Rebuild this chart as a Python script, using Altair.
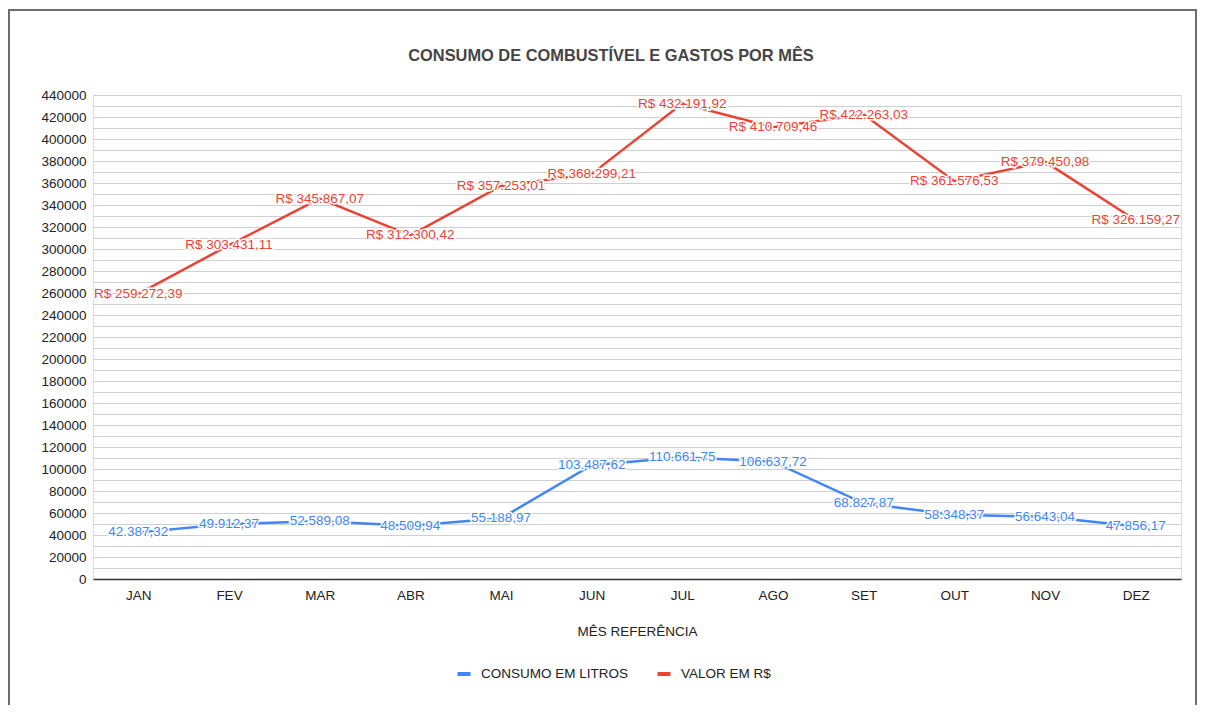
import altair as alt
import pandas as pd

months = ["JAN", "FEV", "MAR", "ABR", "MAI", "JUN", "JUL", "AGO", "SET", "OUT", "NOV", "DEZ"]
consumo_litros = [42387.32, 49912.37, 52589.08, 48509.94, 55188.97, 103487.62,
                  110661.75, 106637.72, 68827.87, 58348.37, 56643.04, 47856.17]
valor_rs = [259272.39, 303431.11, 345867.07, 312300.42, 357253.01, 368299.21,
            432191.92, 410709.46, 422263.03, 361576.53, 379450.98, 326159.27]
series_names = ["CONSUMO EM LITROS", "VALOR EM R$"]
series_colors = ["#4285F4", "#EA4335"]
y_ticks = list(range(0, 440001, 10000))


def br(v):
    s = f"{v:,.2f}"
    return s.replace(",", "X").replace(".", ",").replace("X", ".")


rows = []
for m, c, v in zip(months, consumo_litros, valor_rs):
    rows.append({"mes": m, "serie": series_names[0], "valor": c, "rotulo": br(c)})
    rows.append({"mes": m, "serie": series_names[1], "valor": v, "rotulo": "R$ " + br(v)})
df = pd.DataFrame(rows)

FONT = "Liberation Sans"
FS = 13.5

x_enc = alt.X("mes:O", sort=months,
              scale=alt.Scale(type="point", padding=0.5),
              axis=alt.Axis(title="MÊS REFERÊNCIA", labelAngle=0, ticks=False,
                            labelPadding=9, titlePadding=23, domainColor="#333333",
                            domainWidth=1.5, grid=False, labelFontSize=FS,
                            titleFontSize=FS, titleFontWeight="normal",
                            labelColor="#222222", titleColor="#222222"))
y_enc = alt.Y("valor:Q", scale=alt.Scale(domain=[0, 440000], nice=False, zero=True),
              axis=alt.Axis(title=None, values=y_ticks, format="d",
                            labelExpr="datum.value % 20000 == 0 ? datum.label : ''",
                            labelOverlap=False, labelBound=False,
                            ticks=False, domain=False, labelPadding=7,
                            gridColor="#d0d0d0", gridWidth=1, labelFontSize=FS,
                            labelColor="#222222"))
color_scale = alt.Scale(domain=series_names, range=series_colors)
color_enc = alt.Color("serie:N", scale=color_scale,
                      legend=alt.Legend(title=None, orient="none", direction="horizontal",
                                        legendX=362, legendY=570, symbolType="stroke",
                                        symbolStrokeWidth=4, symbolSize=170,
                                        labelFontSize=FS, labelColor="#222222",
                                        columnPadding=20, labelOffset=8))

base = alt.Chart(df)

lines = base.mark_line(strokeWidth=2.5, clip=False).encode(x=x_enc, y=y_enc, color=color_enc)

halo = base.mark_text(font=FONT, fontSize=FS, stroke="white", strokeWidth=3,
                      fill="white", baseline="middle", align="center").encode(
    x=x_enc, y=y_enc, text="rotulo:N")

labels = base.mark_text(font=FONT, fontSize=FS, baseline="middle", align="center").encode(
    x=x_enc, y=y_enc, text="rotulo:N", color=color_enc)

title = alt.Chart(pd.DataFrame({"t": ["CONSUMO DE COMBUSTÍVEL E GASTOS POR MÊS"]})).mark_text(
    font=FONT, fontSize=16.4, fontWeight="bold", color="#454545",
    align="center", baseline="middle").encode(
    text="t:N", x=alt.value(518), y=alt.value(-39))

frame = alt.Chart(pd.DataFrame({"a": [0]})).mark_rect(
    fill=None, stroke="#6e6e6e", strokeWidth=2, clip=False).encode(
    x=alt.value(-84), x2=alt.value(1103), y=alt.value(-85), y2=alt.value(660))

chart = alt.layer(frame, lines, halo, labels, title).properties(
    width=1088, height=484,
    autosize=alt.AutoSizeParams(type="none"),
    padding={"left": 85, "top": 87, "right": 16, "bottom": 126},
).configure_view(stroke=None).configure_axis(labelFont=FONT, titleFont=FONT).configure_legend(
    labelFont=FONT).configure(background="white")

chart.save("out.html", embed_options={"renderer": "svg", "actions": False})
